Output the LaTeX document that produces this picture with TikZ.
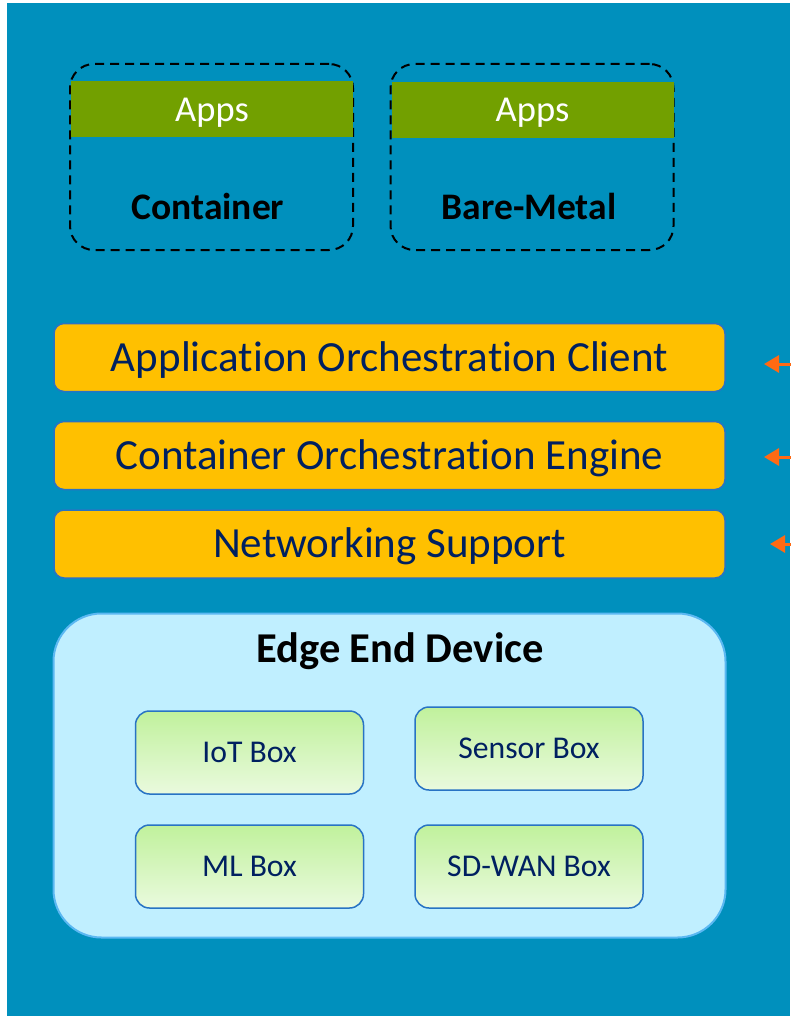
\documentclass[tikz,border=0pt]{standalone}
\usepackage{fontspec}
\setmainfont{Carlito}[Ligatures=NoCommon]
\usetikzlibrary{arrows.meta}
\definecolor{bgblue}{HTML}{0090BD}
\definecolor{appgreen}{HTML}{72A000}
\definecolor{layeryellow}{HTML}{FFC000}
\definecolor{layerline}{HTML}{2873C4}
\definecolor{navy}{HTML}{002060}
\definecolor{edgefill}{HTML}{C0EFFF}
\definecolor{edgeline}{HTML}{5BB8F2}
\definecolor{boxtop}{HTML}{C0F19C}
\definecolor{boxbot}{HTML}{EAFADE}
\definecolor{arrowred}{HTML}{FF6A13}
\tikzset{
  hostbox/.style={draw=black, line width=2pt, dash pattern=on 9pt off 6pt, rounded corners=24pt, minimum width=283pt, minimum height=186pt, inner sep=0pt},
  appsbar/.style={fill=appgreen, minimum width=282pt, minimum height=56pt, inner sep=0pt, text=white, font=\fontsize{36.5}{40}\selectfont, text height=23.4pt, text depth=0pt},
  hostlabel/.style={font=\fontsize{37.5}{42}\selectfont\bfseries, text=black, text height=24pt, text depth=0pt},
  layer/.style={draw=layerline, fill=layeryellow, line width=1.5pt, rounded corners=10pt, minimum width=671pt, minimum height=68pt, inner sep=0pt, text=navy, font=\fontsize{43}{48}\selectfont, text height=27.5pt, text depth=0pt},
  devbox/.style={draw=layerline, top color=boxtop, bottom color=boxbot, line width=1.5pt, rounded corners=14pt, minimum width=228pt, minimum height=83pt, inner sep=0pt, text=navy, font=\fontsize{31.7}{36}\selectfont, text height=20.3pt, text depth=0pt},
  feed/.style={draw=arrowred, line width=3pt, -{Triangle[length=15pt,width=17pt]}}
}
\begin{document}
\begin{tikzpicture}[x=1pt,y=-1pt]
  %%%%% START %%%%%
  \useasboundingbox (0,0) rectangle (790,1016);
  \fill[bgblue] (7,3) rectangle (790,1016);

  % hosts
  \node[hostbox] (container) at (211.5,157) {};
  \node[hostbox] (baremetal) at (532,157) {};
  \node[appsbar] (appsc) at (212,109.5) {Apps};
  \node[appsbar] (appsb) at (532.5,110) {Apps};
  \node[hostlabel] (containerlbl) at (208,207) {Container};
  \node[hostlabel] (baremetallbl) at (529,207) {Bare-Metal};

  % layers
  \node[layer] (client) at (389.5,357.5) {Application Orchestration Client};
  \node[layer] (engine) at (389.5,455.5) {Container Orchestration Engine};
  \node[layer] (network) at (389.5,544) {Networking Support};

  \coordinate (clientin) at (796,364);
  \coordinate (clientout) at (764,364);
  \coordinate (enginein) at (796,457);
  \coordinate (engineout) at (764,457);
  \coordinate (networkin) at (796,544);
  \coordinate (networkout) at (770,544);
  \draw[feed] (clientin) -- (clientout);
  \draw[feed] (enginein) -- (engineout);
  \draw[feed] (networkin) -- (networkout);

  % edge device
  \node[draw=edgeline, fill=edgefill, line width=2pt, rounded corners=48pt, minimum width=672pt, minimum height=324pt, inner sep=0pt] (edge) at (389.5,775.5) {};
  \node[font=\fontsize{42.5}{48}\selectfont\bfseries, text=black, text height=27.2pt, text depth=0pt] (edgelbl) at (400,649) {Edge End Device};

  \node[devbox] (iot) at (249.5,752.5) {IoT Box};
  \node[devbox] (sensor) at (529,748.5) {Sensor Box};
  \node[devbox] (ml) at (249.5,866.5) {ML Box};
  \node[devbox] (sdwan) at (529,866.5) {SD-WAN Box};
  %%%%% END %%%%%
\end{tikzpicture}
\end{document}
